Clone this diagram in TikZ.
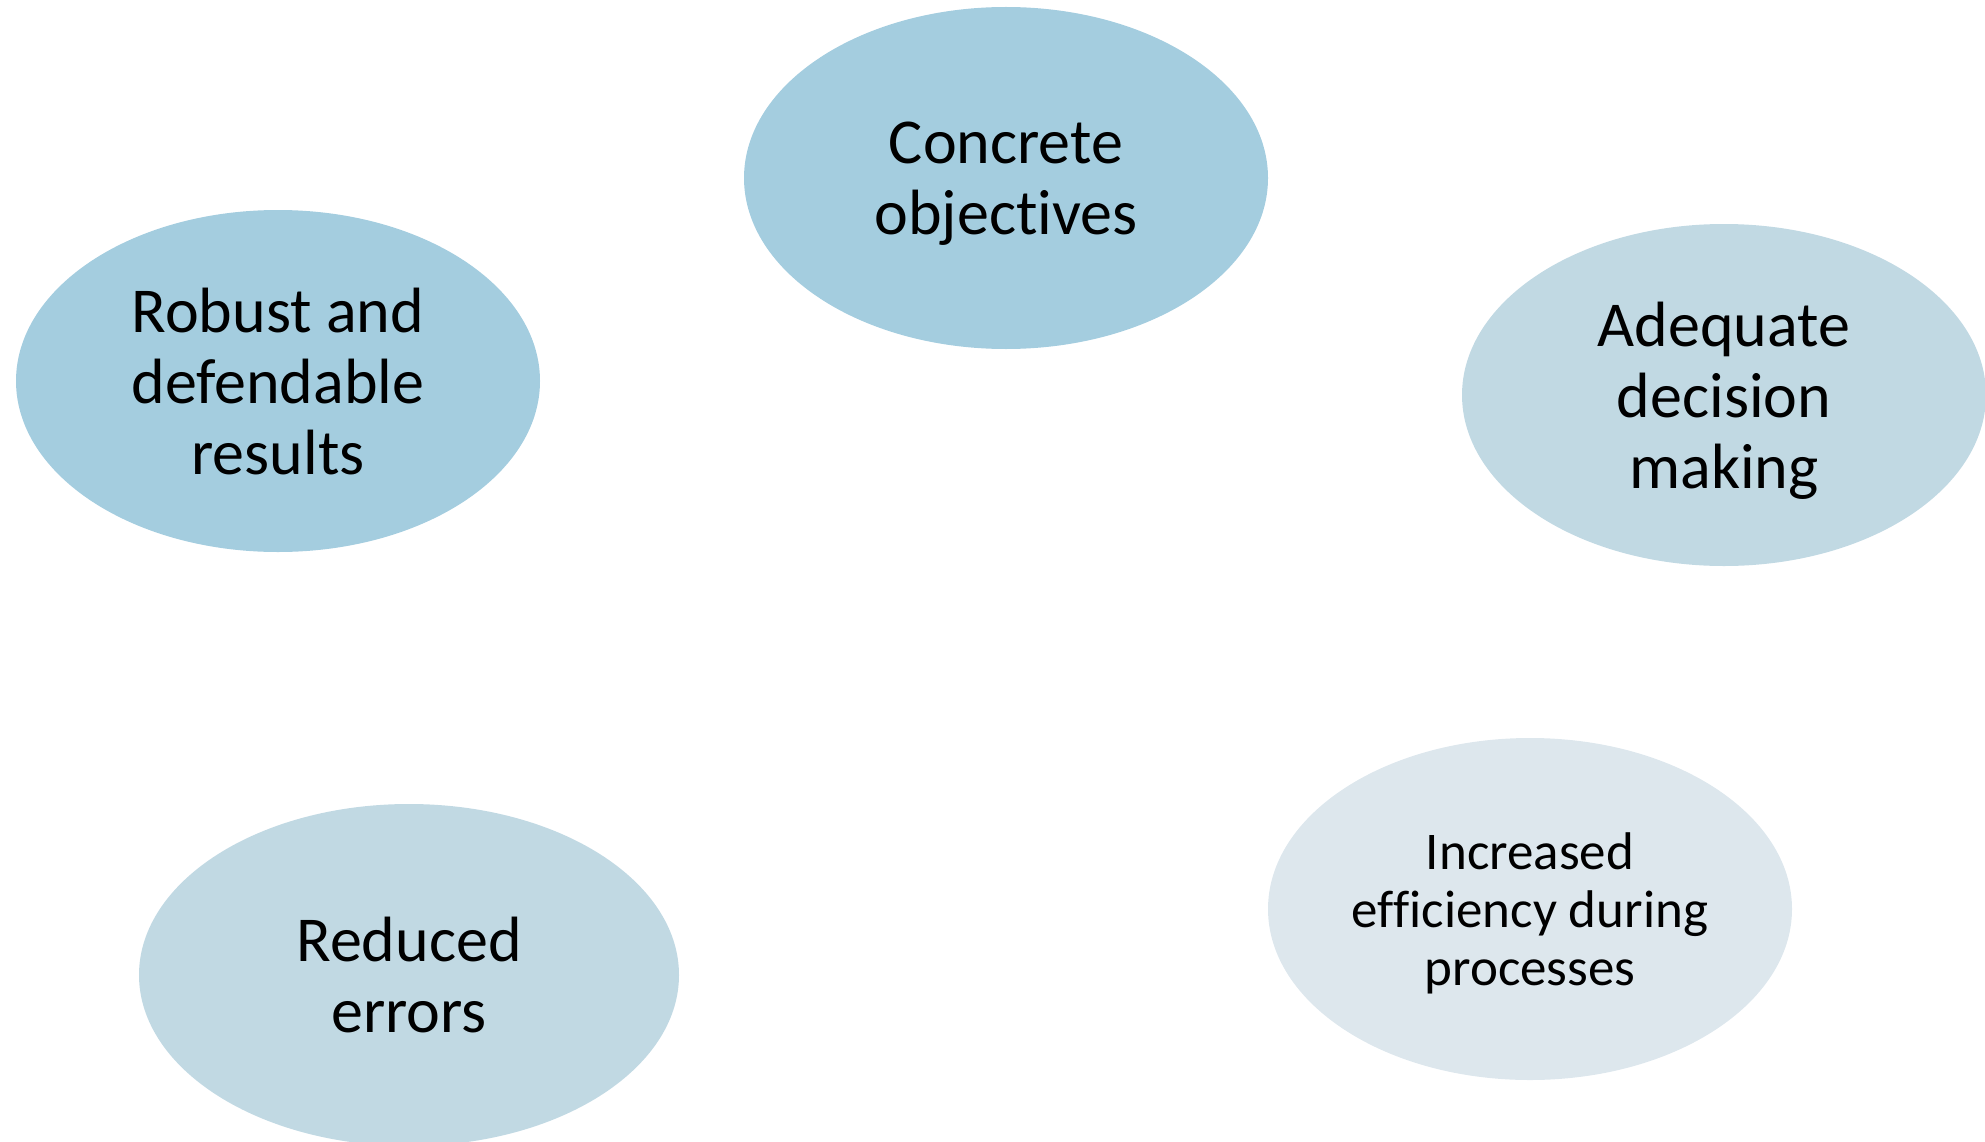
\documentclass[tikz,border=0pt]{standalone}
\usepackage{fontspec}
\setmainfont{Carlito}[RawFeature={-liga;-clig;-calt;-dlig}]
\usetikzlibrary{positioning}
\usetikzlibrary{shapes.geometric}
\definecolor{bubbledark}{HTML}{A4CDDF}
\definecolor{bubblemid}{HTML}{C1D9E3}
\definecolor{bubblelight}{HTML}{DDE7ED}

\begin{document}
\begin{tikzpicture}[x=1pt, y=-1pt,
    bubble/.style = {ellipse, draw=none, inner sep=0pt, align=center,
        minimum width=524pt, minimum height=342pt, text depth=0pt,
        font=\fontsize{64}{71}\selectfont}]
    \useasboundingbox (0,0) rectangle (1985,1142);
    \node[bubble, fill=bubbledark] (concrete) at (1006,178) {Concrete\\objectives};
    \node[bubble, fill=bubbledark] (robust) at (278,381) {Robust and\\defendable\\results};
    \node[bubble, fill=bubblemid] (adequate) at (1724,395) {Adequate\\decision\\making};
    \node[bubble, fill=bubblelight, font=\fontsize{53}{58}\selectfont] (efficiency) at (1530,909) {Increased\\efficiency during\\processes};
    \node[bubble, fill=bubblemid, minimum width=540pt] (errors) at (409,975) {Reduced\\errors};
\end{tikzpicture}
\end{document}
